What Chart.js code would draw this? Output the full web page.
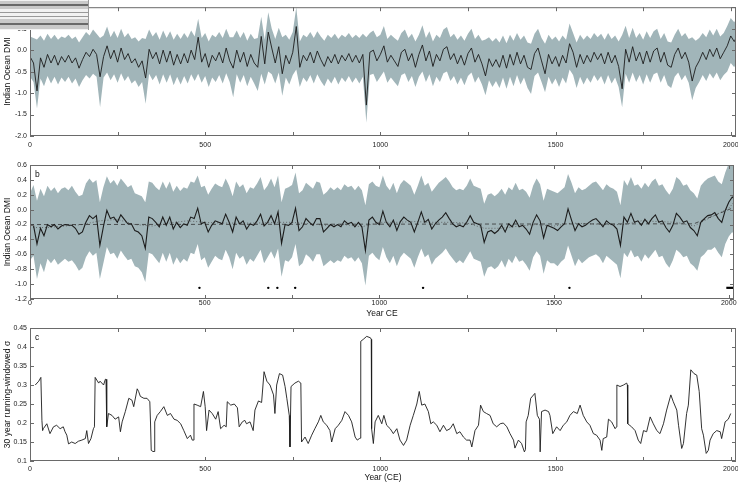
<!DOCTYPE html>
<html>
<head>
<meta charset="utf-8">
<script src="https://cdn.jsdelivr.net/npm/chart.js@4.4.1/dist/chart.umd.min.js"></script>
<style>
html, body { margin: 0; padding: 0; background: #fff; }
#wrap { position: relative; width: 738px; height: 483px; overflow: hidden; }
#wrap canvas { position: absolute; left: 0; }
</style>
</head>
<body>
<div id="wrap">
<canvas id="chartA" width="738" height="150" style="top:0px"></canvas>
<canvas id="chartB" width="738" height="169" style="top:150px"></canvas>
<canvas id="chartC" width="738" height="164" style="top:319px"></canvas>
</div>
<script>
// decadal year grid shared by panels a and b (last point is 2015)
var gridYears = [];
for (var i = 0; i <= 201; i++) gridYears.push(i * 10);
gridYears.push(2015);

// x axis ticks (every 250 years) and labelled years
var xTickYears = [0, 250, 500, 750, 1000, 1250, 1500, 1750, 2000];
var xLabelYears = [0, 500, 1000, 1500, 2000];

// panel a: annual reconstruction (sampled every 10 years) and its band
var aMean = [
	-0.15,-0.30,-0.95,-0.18,-0.40,-0.10,-0.30,-0.12,-0.35,-0.15,
	-0.28,-0.12,-0.30,-0.18,-0.42,-0.22,-0.05,-0.15,0.02,-0.10,
	-0.62,-0.15,0.10,-0.20,0.00,-0.28,0.05,-0.22,-0.08,-0.30,
	-0.20,-0.40,-0.25,-0.65,0.02,-0.20,-0.05,-0.32,0.00,-0.28,
	-0.02,-0.35,-0.10,-0.32,-0.08,-0.30,0.00,-0.22,0.30,-0.28,
	-0.08,-0.40,-0.12,-0.25,-0.05,-0.30,0.05,-0.25,-0.42,0.00,
	-0.28,-0.05,-0.38,-0.10,-0.30,-0.40,0.32,-0.32,0.42,0.05,
	-0.30,0.08,-0.55,-0.12,-0.32,-0.05,0.55,-0.40,-0.12,-0.25,
	-0.05,-0.30,-0.02,-0.22,-0.38,-0.15,-0.30,-0.10,-0.32,-0.12,
	-0.25,-0.08,-0.28,-0.12,-0.30,-0.10,-1.28,-0.05,0.00,-0.25,
	-0.10,0.10,-0.28,-0.12,-0.25,-0.38,-0.05,0.02,-0.25,-0.08,
	-0.40,-0.10,0.12,-0.25,-0.02,-0.38,-0.10,-0.25,0.02,0.08,
	-0.22,-0.08,-0.32,-0.12,-0.35,-0.08,0.05,-0.28,-0.10,-0.32,
	-0.60,-0.20,-0.38,-0.22,-0.40,-0.12,-0.42,-0.10,-0.35,-0.05,
	-0.32,-0.12,-0.40,-0.45,-0.08,0.05,-0.25,-0.55,-0.10,-0.32,
	-0.15,-0.38,-0.12,-0.30,0.15,-0.05,-0.40,-0.10,-0.32,-0.12,
	-0.28,-0.05,-0.22,-0.08,-0.32,-0.05,-0.30,-0.12,-0.38,-0.90,
	0.02,-0.28,0.08,-0.25,-0.05,-0.32,-0.02,-0.28,-0.02,0.05,
	-0.28,-0.05,-0.35,-0.40,-0.10,0.05,-0.20,-0.05,-0.28,-0.72,
	-0.40,-0.25,-0.05,-0.22,0.02,-0.15,0.05,-0.20,-0.05,0.10,
	0.33,0.20,0.28
];
var aUpper = [
	0.32,0.28,0.25,0.34,0.22,0.38,0.26,0.36,0.24,0.32,
	0.28,0.36,0.26,0.32,0.18,0.30,0.42,0.34,0.48,0.38,
	0.28,0.34,0.55,0.30,0.45,0.28,0.50,0.30,0.40,0.26,
	0.30,0.20,0.28,0.26,0.48,0.32,0.42,0.24,0.46,0.28,
	0.44,0.24,0.38,0.26,0.40,0.28,0.46,0.32,0.73,0.28,
	0.40,0.20,0.36,0.30,0.42,0.28,0.50,0.30,0.30,0.46,
	0.28,0.42,0.22,0.38,0.26,0.28,0.78,0.24,0.88,0.50,
	0.26,0.52,0.30,0.36,0.24,0.42,1.00,0.20,0.36,0.30,
	0.42,0.28,0.44,0.32,0.22,0.36,0.28,0.38,0.26,0.36,
	0.30,0.40,0.28,0.36,0.28,0.38,0.30,0.40,0.46,0.30,
	0.36,0.56,0.26,0.36,0.28,0.22,0.40,0.48,0.28,0.38,
	0.20,0.36,0.58,0.28,0.44,0.20,0.36,0.28,0.48,0.54,
	0.30,0.38,0.24,0.34,0.22,0.38,0.50,0.26,0.36,0.22,
	0.25,0.30,0.20,0.28,0.18,0.34,0.16,0.36,0.22,0.40,
	0.24,0.34,0.18,0.15,0.38,0.50,0.28,0.15,0.36,0.24,
	0.32,0.20,0.34,0.24,0.62,0.40,0.18,0.36,0.24,0.34,
	0.26,0.40,0.30,0.38,0.24,0.40,0.26,0.34,0.20,0.35,
	0.57,0.28,0.52,0.28,0.40,0.24,0.44,0.28,0.44,0.50,
	0.26,0.40,0.20,0.18,0.36,0.50,0.32,0.40,0.26,0.30,
	0.22,0.28,0.40,0.30,0.48,0.34,0.50,0.32,0.40,0.56,
	0.75,0.65,0.72
];
var aLower = [
	-0.62,-0.74,-1.36,-0.66,-0.84,-0.60,-0.78,-0.62,-0.80,-0.64,
	-0.74,-0.62,-0.78,-0.66,-0.86,-0.70,-0.58,-0.66,-0.55,-0.62,
	-1.33,-0.64,-0.52,-0.70,-0.56,-0.76,-0.54,-0.72,-0.60,-0.78,
	-0.70,-0.86,-0.74,-1.25,-0.55,-0.70,-0.58,-0.80,-0.56,-0.76,
	-0.56,-0.82,-0.62,-0.80,-0.60,-0.78,-0.56,-0.72,-0.55,-0.76,
	-0.60,-0.86,-0.64,-0.74,-0.58,-0.78,-0.54,-0.74,-1.10,-0.56,
	-0.76,-0.58,-0.84,-0.62,-0.78,-0.95,-0.55,-0.80,-0.50,-0.56,
	-0.78,-0.52,-1.06,-0.64,-0.80,-0.58,-0.45,-0.86,-0.64,-0.74,
	-0.58,-0.78,-0.56,-0.72,-0.84,-0.66,-0.78,-0.62,-0.80,-0.64,
	-0.74,-0.60,-0.76,-0.64,-0.78,-0.62,-1.69,-0.58,-0.55,-0.74,
	-0.62,-0.50,-0.76,-0.64,-0.74,-0.84,-0.58,-0.54,-0.74,-0.60,
	-0.86,-0.62,-0.50,-0.74,-0.56,-0.84,-0.62,-0.74,-0.54,-0.50,
	-0.72,-0.60,-0.80,-0.64,-0.82,-0.60,-0.52,-0.76,-0.62,-0.80,
	-1.05,-0.70,-0.86,-0.72,-0.88,-0.64,-0.90,-0.62,-0.84,-0.58,
	-0.80,-0.64,-0.88,-1.02,-0.60,-0.52,-0.74,-0.98,-0.62,-0.80,
	-0.66,-0.86,-0.64,-0.78,-0.45,-0.58,-0.88,-0.62,-0.80,-0.64,
	-0.76,-0.58,-0.72,-0.60,-0.80,-0.58,-0.78,-0.64,-0.86,-1.33,
	-0.55,-0.76,-0.52,-0.74,-0.58,-0.80,-0.56,-0.76,-0.56,-0.52,
	-0.76,-0.58,-0.82,-0.88,-0.62,-0.52,-0.70,-0.58,-0.76,-1.17,
	-0.88,-0.74,-0.58,-0.72,-0.54,-0.66,-0.52,-0.70,-0.58,-0.50,
	-0.30,-0.40,-0.30
];

// panel b: smoothed reconstruction and its band
var bMean = [
	-0.21,-0.21,-0.46,-0.25,-0.35,-0.20,-0.23,-0.20,-0.26,-0.22,
	-0.20,-0.21,-0.21,-0.25,-0.33,-0.30,-0.17,-0.08,-0.12,-0.08,
	-0.48,-0.23,-0.01,-0.12,-0.10,-0.17,-0.07,-0.13,-0.19,-0.19,
	-0.28,-0.30,-0.35,-0.52,-0.10,-0.12,-0.17,-0.23,-0.10,-0.21,
	-0.10,-0.26,-0.17,-0.24,-0.19,-0.21,-0.10,-0.12,0.02,-0.19,
	-0.17,-0.30,-0.21,-0.15,-0.17,-0.19,-0.06,-0.17,-0.30,-0.10,
	-0.19,-0.15,-0.26,-0.19,-0.21,-0.15,-0.06,-0.22,-0.17,-0.08,
	-0.19,-0.03,-0.45,-0.20,-0.21,-0.17,0.02,-0.28,-0.23,-0.12,
	-0.17,-0.21,-0.12,-0.12,-0.30,-0.25,-0.20,-0.23,-0.20,-0.23,
	-0.15,-0.19,-0.17,-0.23,-0.17,-0.23,-0.55,-0.14,-0.10,-0.17,
	-0.20,-0.02,-0.17,-0.23,-0.14,-0.28,-0.16,-0.10,-0.14,-0.17,
	-0.30,-0.17,-0.03,-0.17,-0.13,-0.26,-0.19,-0.14,-0.10,-0.04,
	-0.12,-0.19,-0.23,-0.21,-0.23,-0.17,-0.08,-0.17,-0.19,-0.21,
	-0.44,-0.30,-0.28,-0.32,-0.28,-0.21,-0.30,-0.19,-0.23,-0.14,
	-0.23,-0.21,-0.26,-0.33,-0.17,-0.07,-0.15,-0.38,-0.21,-0.23,
	-0.25,-0.28,-0.23,-0.19,0.01,-0.14,-0.28,-0.19,-0.23,-0.21,
	-0.17,-0.14,-0.12,-0.17,-0.23,-0.15,-0.19,-0.21,-0.26,-0.48,
	-0.10,-0.17,-0.05,-0.17,-0.15,-0.21,-0.13,-0.19,-0.12,-0.07,
	-0.17,-0.15,-0.24,-0.30,-0.21,-0.05,-0.10,-0.17,-0.15,-0.24,
	-0.28,-0.35,-0.17,-0.12,-0.08,-0.07,-0.04,-0.12,-0.17,-0.01,
	0.10,0.17,0.15
];
var bUpper = [
	0.22,0.33,0.12,0.28,0.18,0.32,0.25,0.30,0.22,0.28,
	0.30,0.26,0.32,0.24,0.18,0.20,0.35,0.42,0.36,0.40,
	0.10,0.30,0.45,0.35,0.40,0.32,0.42,0.36,0.30,0.33,
	0.22,0.20,0.18,0.10,0.38,0.36,0.30,0.26,0.38,0.28,
	0.38,0.24,0.32,0.25,0.30,0.28,0.38,0.36,0.46,0.30,
	0.32,0.20,0.28,0.35,0.32,0.30,0.42,0.32,0.18,0.38,
	0.30,0.34,0.22,0.30,0.28,0.35,0.44,0.26,0.32,0.42,
	0.30,0.46,0.10,0.28,0.30,0.33,0.50,0.22,0.26,0.36,
	0.32,0.28,0.38,0.36,0.20,0.24,0.30,0.26,0.30,0.26,
	0.34,0.30,0.32,0.26,0.32,0.26,0.06,0.34,0.38,0.32,
	0.30,0.46,0.32,0.26,0.36,0.22,0.34,0.40,0.36,0.32,
	0.20,0.32,0.46,0.32,0.36,0.24,0.30,0.36,0.40,0.44,
	0.38,0.30,0.26,0.28,0.26,0.32,0.42,0.32,0.30,0.28,
	0.08,0.20,0.22,0.18,0.22,0.28,0.20,0.30,0.26,0.36,
	0.26,0.28,0.24,0.16,0.32,0.42,0.34,0.12,0.28,0.26,
	0.24,0.22,0.26,0.30,0.48,0.36,0.22,0.30,0.26,0.28,
	0.32,0.36,0.38,0.32,0.26,0.34,0.30,0.28,0.24,0.06,
	0.40,0.32,0.44,0.32,0.34,0.28,0.36,0.30,0.38,0.42,
	0.32,0.34,0.26,0.20,0.28,0.44,0.40,0.32,0.34,0.26,
	0.22,0.15,0.32,0.38,0.42,0.44,0.46,0.38,0.34,0.50,
	0.62,0.66,0.60
];
var bLower = [
	-0.68,-0.62,-0.93,-0.72,-0.84,-0.66,-0.72,-0.66,-0.74,-0.70,
	-0.66,-0.70,-0.68,-0.74,-0.82,-0.78,-0.64,-0.56,-0.62,-0.58,
	-0.93,-0.72,-0.50,-0.60,-0.58,-0.66,-0.55,-0.62,-0.68,-0.66,
	-0.76,-0.78,-0.84,-0.97,-0.58,-0.60,-0.66,-0.72,-0.58,-0.70,
	-0.58,-0.74,-0.64,-0.72,-0.66,-0.70,-0.58,-0.60,-0.46,-0.68,
	-0.64,-0.78,-0.70,-0.62,-0.66,-0.68,-0.54,-0.64,-0.80,-0.58,
	-0.66,-0.62,-0.74,-0.66,-0.70,-0.62,-0.54,-0.72,-0.64,-0.56,
	-0.66,-0.52,-0.90,-0.68,-0.70,-0.64,-0.46,-0.76,-0.72,-0.60,
	-0.64,-0.70,-0.60,-0.60,-0.76,-0.72,-0.68,-0.72,-0.68,-0.70,
	-0.62,-0.66,-0.64,-0.70,-0.64,-0.72,-1.02,-0.62,-0.58,-0.64,
	-0.68,-0.50,-0.64,-0.72,-0.62,-0.76,-0.64,-0.58,-0.62,-0.66,
	-0.78,-0.64,-0.52,-0.64,-0.60,-0.74,-0.66,-0.62,-0.58,-0.52,
	-0.60,-0.66,-0.72,-0.68,-0.72,-0.64,-0.56,-0.66,-0.68,-0.70,
	-0.90,-0.78,-0.76,-0.80,-0.76,-0.68,-0.78,-0.66,-0.72,-0.62,
	-0.70,-0.68,-0.74,-0.82,-0.64,-0.56,-0.62,-0.86,-0.68,-0.72,
	-0.72,-0.76,-0.70,-0.66,-0.48,-0.62,-0.76,-0.66,-0.72,-0.68,
	-0.64,-0.62,-0.60,-0.64,-0.72,-0.62,-0.66,-0.70,-0.74,-0.92,
	-0.58,-0.64,-0.54,-0.64,-0.62,-0.70,-0.60,-0.66,-0.60,-0.54,
	-0.64,-0.62,-0.72,-0.78,-0.68,-0.54,-0.58,-0.64,-0.62,-0.72,
	-0.76,-0.82,-0.64,-0.60,-0.54,-0.54,-0.50,-0.58,-0.64,-0.46,
	-0.36,-0.30,-0.34
];

// panel b: long-term mean (dashed) and low-pass curve (dotted)
var bTrendYears = [0, 1900, 2015];
var bTrend = [-0.20, -0.19, 0.03];
var bLowYears = [0,50,100,150,200,250,300,350,400,450,500,550,600,650,700,750,800,850,900,950,1000,
	1050,1100,1150,1200,1250,1300,1350,1400,1450,1500,1550,1600,1650,1700,1750,1800,1850,1900,1950,2000,2015];
var bLow = [-0.24,-0.24,-0.22,-0.20,-0.15,-0.13,-0.20,-0.22,-0.18,-0.15,-0.17,-0.18,-0.18,-0.18,-0.17,-0.17,-0.19,-0.21,-0.20,-0.23,-0.17,
	-0.17,-0.16,-0.17,-0.17,-0.18,-0.25,-0.25,-0.22,-0.20,-0.22,-0.18,-0.19,-0.20,-0.20,-0.15,-0.16,-0.17,-0.22,-0.10,0.02,0.10];

// panel b: significance markers
var sigYears = [485, 682, 708, 759, 1125, 1544];
var sigLevel = -1.05;
var sigSpan = [1993, 2015];

// panel c: 30 year running-windowed standard deviation
var cYears = [15,25,31,34,36,38,48,57,67,76,86,95,100,105,110,119,129,138,148,158,162,167,174,181,184,186,196,200,210,215,217,219,224,234,243,253,258,263,272,282,291,296,306,310,315,325,334,342,344,346,351,354,356,363,372,382,392,401,411,420,430,439,449,458,463,466,468,477,487,495,500,502,504,511,520,530,537,544,554,560,563,573,583,592,597,606,613,618,628,637,642,652,661,668,676,685,695,699,704,712,721,728,733,740,742,745,756,766,773,775,785,794,804,813,823,830,837,847,856,861,871,880,890,899,909,918,928,934,940,943,944,951,961,972,974,975,980,985,994,1004,1010,1018,1028,1037,1047,1056,1066,1075,1085,1094,1104,1111,1118,1127,1137,1144,1151,1161,1170,1180,1189,1199,1208,1218,1227,1237,1246,1256,1261,1270,1280,1286,1294,1303,1313,1322,1332,1342,1351,1361,1370,1380,1384,1394,1403,1411,1414,1416,1422,1429,1441,1448,1454,1456,1460,1470,1480,1484,1492,1503,1513,1522,1532,1541,1551,1562,1570,1579,1589,1598,1608,1617,1627,1632,1636,1646,1651,1660,1670,1674,1675,1684,1694,1703,1705,1706,1717,1727,1736,1743,1751,1760,1770,1779,1789,1798,1808,1817,1829,1836,1846,1851,1860,1865,1874,1879,1886,1895,1903,1910,1917,1922,1930,1936,1941,1950,1960,1970,1974,1984,1993,2000];
var cSigma = [0.30,0.31,0.32,0.207,0.18,0.185,0.198,0.172,0.19,0.194,0.185,0.19,0.177,0.168,0.145,0.15,0.146,0.152,0.155,0.159,0.18,0.146,0.159,0.185,0.19,0.32,0.305,0.31,0.30,0.315,0.315,0.19,0.225,0.22,0.21,0.216,0.177,0.203,0.23,0.265,0.26,0.243,0.29,0.283,0.27,0.265,0.265,0.256,0.20,0.128,0.125,0.125,0.203,0.22,0.23,0.243,0.22,0.225,0.21,0.207,0.198,0.18,0.159,0.168,0.155,0.155,0.25,0.247,0.243,0.283,0.243,0.243,0.18,0.234,0.225,0.21,0.23,0.185,0.194,0.19,0.256,0.247,0.25,0.24,0.19,0.203,0.207,0.198,0.203,0.18,0.234,0.258,0.254,0.335,0.31,0.30,0.274,0.225,0.30,0.33,0.326,0.296,0.265,0.22,0.137,0.296,0.305,0.31,0.305,0.15,0.163,0.146,0.168,0.185,0.203,0.22,0.203,0.194,0.18,0.15,0.185,0.194,0.207,0.23,0.22,0.203,0.163,0.155,0.159,0.16,0.415,0.42,0.428,0.424,0.42,0.185,0.146,0.203,0.22,0.198,0.22,0.194,0.185,0.172,0.185,0.155,0.141,0.155,0.194,0.22,0.25,0.283,0.247,0.25,0.23,0.198,0.203,0.194,0.177,0.194,0.18,0.185,0.198,0.172,0.177,0.163,0.155,0.155,0.137,0.18,0.194,0.247,0.23,0.225,0.22,0.198,0.19,0.198,0.20,0.19,0.172,0.155,0.134,0.155,0.146,0.124,0.13,0.203,0.22,0.265,0.278,0.22,0.21,0.124,0.23,0.234,0.23,0.22,0.172,0.19,0.18,0.194,0.203,0.22,0.23,0.225,0.247,0.22,0.203,0.194,0.172,0.168,0.155,0.128,0.159,0.163,0.21,0.203,0.185,0.19,0.30,0.296,0.30,0.305,0.30,0.198,0.19,0.18,0.155,0.146,0.18,0.177,0.216,0.198,0.18,0.172,0.198,0.234,0.274,0.256,0.234,0.194,0.133,0.146,0.225,0.247,0.34,0.33,0.326,0.283,0.185,0.168,0.12,0.128,0.155,0.172,0.18,0.177,0.159,0.203,0.21,0.225];

var BAND = '#a1b5b9';
var INK = '#1c1c1c';
var FONT = '"Liberation Sans", Arial, Helvetica, sans-serif';

Chart.defaults.font.family = FONT;
Chart.defaults.font.size = 7;
Chart.defaults.color = '#222';

function pts(xs, ys) {
	return xs.map(function(x, i) { return { x: x, y: ys[i] }; });
}

/**
 * Frame, inward ticks on all four sides, x tick labels and the panel letter
 */
var boxTicks = {
	id: 'boxTicks',
	afterDraw: function(chart, args, opts) {
		var ctx = chart.ctx, a = chart.chartArea;
		var xs = chart.scales.x, ys = chart.scales.y;
		ctx.save();
		ctx.strokeStyle = '#6a6a6a';
		ctx.lineWidth = 1;
		ctx.strokeRect(a.left + 0.5, a.top + 0.5, a.right - a.left - 1, a.bottom - a.top - 1);
		ctx.beginPath();
		xTickYears.forEach(function(v) {
			var px = Math.round(xs.getPixelForValue(v)) + 0.5;
			ctx.moveTo(px, a.bottom); ctx.lineTo(px, a.bottom - 4);
			ctx.moveTo(px, a.top); ctx.lineTo(px, a.top + 4);
		});
		ys.ticks.forEach(function(t) {
			var py = Math.round(ys.getPixelForValue(t.value)) + 0.5;
			ctx.moveTo(a.left, py); ctx.lineTo(a.left + 4, py);
			ctx.moveTo(a.right, py); ctx.lineTo(a.right - 4, py);
		});
		ctx.stroke();

		ctx.fillStyle = '#222';
		ctx.font = '7px ' + FONT;
		ctx.textAlign = 'center';
		ctx.textBaseline = 'middle';
		xLabelYears.forEach(function(v) {
			ctx.fillText(String(v), xs.getPixelForValue(v), a.bottom + opts.labelGap);
		});

		if (opts.letter) {
			ctx.fillStyle = '#111';
			ctx.font = '8.5px ' + FONT;
			ctx.textAlign = 'left';
			ctx.fillText(opts.letter, a.left + 5, a.top + 10);
		}
		ctx.restore();
	}
};

// small stray figure strip in the top left corner of panel a
var cornerStrip = {
	id: 'cornerStrip',
	afterDraw: function(chart, args, opts) {
		if (!opts.show) return;
		var ctx = chart.ctx;
		ctx.save();
		ctx.fillStyle = '#f2f2f2';
		ctx.fillRect(0, 0, 88, 30);
		ctx.fillStyle = '#c9c9c9';
		ctx.fillRect(0, 1, 88, 8);
		ctx.fillRect(0, 19, 88, 10);
		ctx.strokeStyle = '#4a4a4a';
		ctx.lineWidth = 1.5;
		ctx.beginPath();
		ctx.moveTo(0, 5); ctx.lineTo(88, 5);
		ctx.moveTo(0, 24); ctx.lineTo(88, 24);
		ctx.stroke();
		ctx.strokeStyle = '#999';
		ctx.lineWidth = 1;
		ctx.beginPath();
		ctx.moveTo(88.5, 0); ctx.lineTo(88.5, 30);
		ctx.moveTo(0, 12.5); ctx.lineTo(88, 12.5);
		ctx.moveTo(0, 16.5); ctx.lineTo(88, 16.5);
		ctx.stroke();
		ctx.restore();
	}
};

function xScale(title, height) {
	return {
		type: 'linear', min: 0, max: 2015,
		grid: { display: false, drawTicks: false }, border: { display: false },
		ticks: { display: false },
		title: { display: !!title, text: title || '', font: { size: 8.5 }, padding: 0, color: '#111' },
		afterFit: function(s) { s.height = height; }
	};
}

function yScale(min, max, step, fmt, label) {
	return {
		type: 'linear', min: min, max: max,
		grid: { display: false, drawTicks: false }, border: { display: false },
		ticks: { stepSize: step, includeBounds: false, autoSkip: false, padding: 3, callback: fmt },
		title: { display: true, text: label, font: { size: 8.5 }, padding: { top: 3, bottom: 0 }, color: '#111' },
		afterFit: function(s) { s.width = 30; }
	};
}

function baseOptions(xs, ys, padTop, letter, gap, strip) {
	return {
		responsive: false, animation: false, devicePixelRatio: 1,
		layout: { padding: { top: padTop, right: 2, left: 0, bottom: 0 } },
		elements: { point: { radius: 0 }, line: { tension: 0 } },
		plugins: {
			legend: { display: false }, tooltip: { enabled: false },
			boxTicks: { letter: letter, labelGap: gap }, cornerStrip: { show: !!strip }
		},
		scales: { x: xs, y: ys }
	};
}

var oneDec = function(v) { return v.toFixed(1); };

// panel a
new Chart(document.getElementById('chartA'), {
	type: 'line',
	data: {
		datasets: [
			{ data: pts(gridYears, aUpper), borderWidth: 0, backgroundColor: BAND, fill: '+1', order: 10 },
			{ data: pts(gridYears, aLower), borderWidth: 0, fill: false, order: 11 },
			{ data: pts(gridYears, aMean), borderColor: INK, borderWidth: 0.9, fill: false, order: 1 }
		]
	},
	options: baseOptions(xScale('', 14), yScale(-2, 1, 0.5, oneDec, 'Indian Ocean DMI'), 3, 'a', 9, true),
	plugins: [boxTicks, cornerStrip]
});

// panel b
new Chart(document.getElementById('chartB'), {
	type: 'line',
	data: {
		datasets: [
			{ data: pts(gridYears, bUpper), borderWidth: 0, backgroundColor: BAND, fill: '+1', order: 10 },
			{ data: pts(gridYears, bLower), borderWidth: 0, fill: false, order: 11 },
			{ data: pts(bLowYears, bLow), borderColor: '#555', borderWidth: 0.8, borderDash: [1, 2], fill: false, order: 4 },
			{ data: pts(bTrendYears, bTrend), borderColor: '#333', borderWidth: 0.8, borderDash: [4, 3], fill: false, order: 3 },
			{ data: pts(gridYears, bMean), borderColor: INK, borderWidth: 1.1, fill: false, order: 2 },
			{ data: sigYears.map(function(y) { return { x: y, y: sigLevel }; }), showLine: false,
				pointRadius: 1.2, pointBackgroundColor: '#000', pointBorderWidth: 0, order: 1 },
			{ data: sigSpan.map(function(y) { return { x: y, y: sigLevel }; }), borderColor: '#000', borderWidth: 2.2, fill: false, order: 1 }
		]
	},
	options: baseOptions(xScale('Year CE', 20), yScale(-1.2, 0.6, 0.2, oneDec, 'Indian Ocean DMI'), 15, 'b', 4, false),
	plugins: [boxTicks]
});

// panel c
new Chart(document.getElementById('chartC'), {
	type: 'line',
	data: {
		datasets: [
			{ data: pts(cYears, cSigma), borderColor: INK, borderWidth: 0.9, fill: false }
		]
	},
	options: baseOptions(xScale('Year (CE)', 22),
		yScale(0.1, 0.45, 0.05, function(v) { return String(Number(v.toFixed(2))); }, '30 year running-windowed σ'), 9, 'c', 8, false),
	plugins: [boxTicks]
});
</script>
</body>
</html>
